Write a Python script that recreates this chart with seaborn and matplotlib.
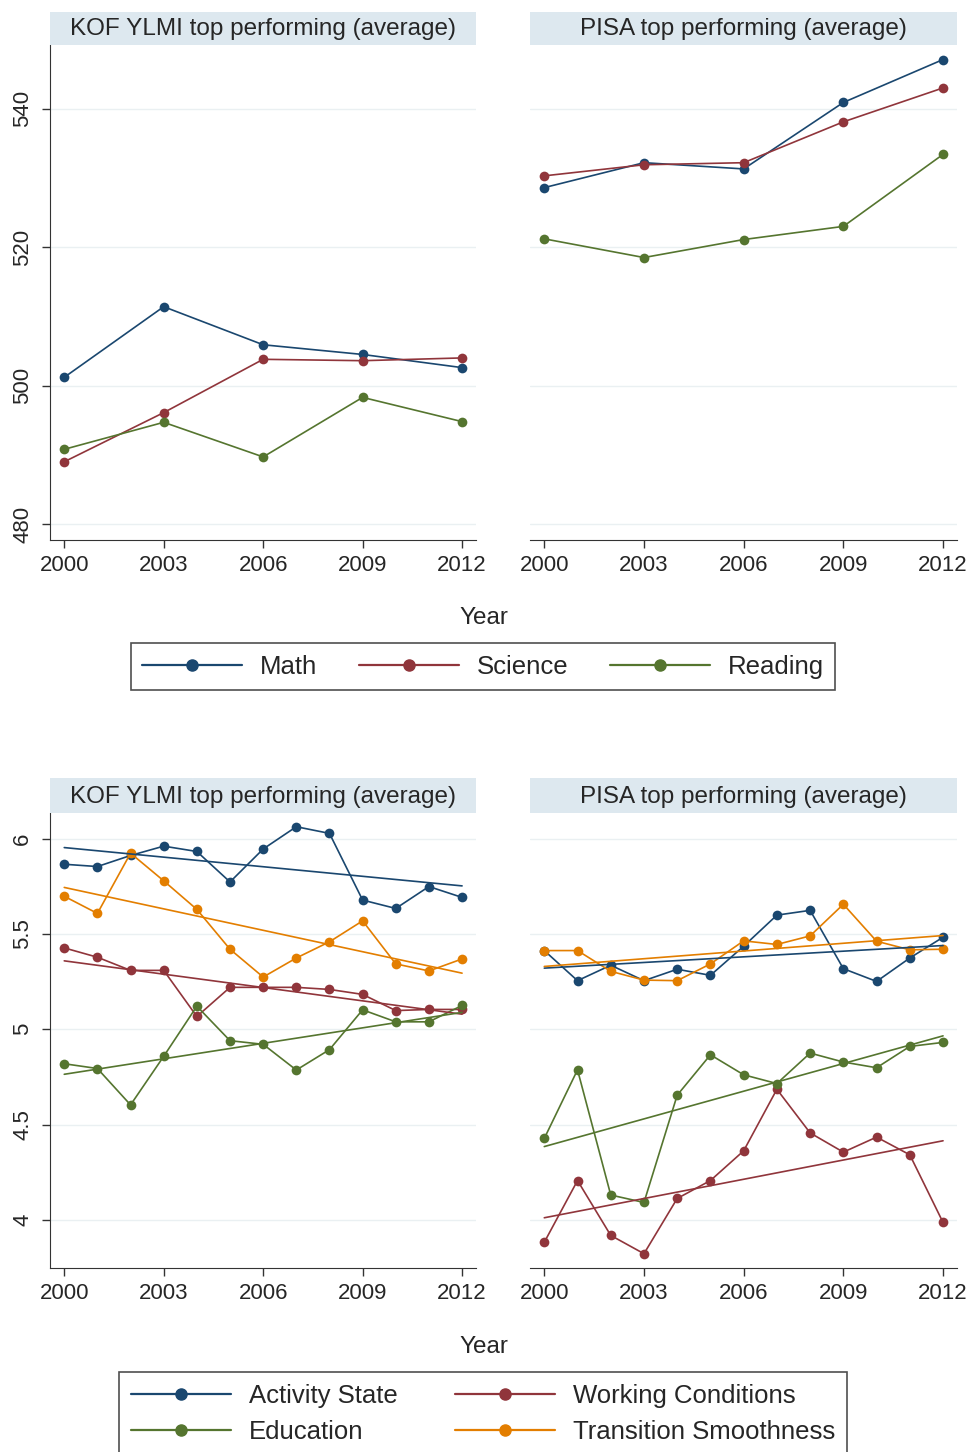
import numpy as np
import pandas as pd
import seaborn as sns
import matplotlib.pyplot as plt
from matplotlib.lines import Line2D

# -- dados -- #
anos_pisa = [2000, 2003, 2006, 2009, 2012]
anos = list(range(2000, 2013))

# KOF YLMI top performing (PISA scores)
kof_math = [501.2, 511.4, 505.9, 504.5, 502.6]
kof_science = [489.0, 496.1, 503.8, 503.6, 504.0]
kof_reading = [490.8, 494.7, 489.7, 498.3, 494.8]

# PISA top performing (PISA scores)
pisa_math = [528.6, 532.2, 531.3, 540.9, 547.1]
pisa_science = [530.3, 531.9, 532.2, 538.1, 543.0]
pisa_reading = [521.2, 518.5, 521.1, 523.0, 533.4]

# KOF YLMI top performing (indicadores)
kof_activity = [5.866, 5.854, 5.912, 5.961, 5.933, 5.773, 5.946, 6.063, 6.028, 5.678, 5.634, 5.749, 5.692]
kof_working = [5.427, 5.378, 5.309, 5.309, 5.067, 5.220, 5.220, 5.220, 5.209, 5.183, 5.098, 5.104, 5.104]
kof_education = [4.819, 4.794, 4.603, 4.858, 5.121, 4.940, 4.921, 4.786, 4.893, 5.102, 5.039, 5.039, 5.125]
kof_transition = [5.698, 5.608, 5.924, 5.779, 5.629, 5.420, 5.274, 5.374, 5.459, 5.569, 5.343, 5.306, 5.369]

# PISA top performing (indicadores)
pisa_activity = [5.413, 5.255, 5.336, 5.255, 5.315, 5.283, 5.436, 5.599, 5.624, 5.318, 5.251, 5.374, 5.483]
pisa_working = [3.882, 4.206, 3.918, 3.822, 4.112, 4.206, 4.362, 4.685, 4.456, 4.355, 4.434, 4.341, 3.986]
pisa_education = [4.427, 4.787, 4.130, 4.091, 4.654, 4.866, 4.761, 4.715, 4.875, 4.828, 4.798, 4.910, 4.931]
pisa_transition = [5.413, 5.413, 5.304, 5.258, 5.255, 5.343, 5.464, 5.445, 5.490, 5.656, 5.462, 5.417, 5.420]

titulos = ["KOF YLMI top performing (average)", "PISA top performing (average)"]
materias = ["Math", "Science", "Reading"]
indicadores = ["Activity State", "Working Conditions", "Education", "Transition Smoothness"]

cores = {"Math": "#1a476f", "Science": "#90353b", "Reading": "#55752f",
         "Activity State": "#1a476f", "Working Conditions": "#90353b",
         "Education": "#55752f", "Transition Smoothness": "#e37e00"}

scores = pd.concat([
    pd.DataFrame({"grupo": titulos[0], "ano": anos_pisa, "Math": kof_math, "Science": kof_science, "Reading": kof_reading}),
    pd.DataFrame({"grupo": titulos[1], "ano": anos_pisa, "Math": pisa_math, "Science": pisa_science, "Reading": pisa_reading}),
]).melt(id_vars=["grupo", "ano"], var_name="serie", value_name="valor")

indices = pd.concat([
    pd.DataFrame({"grupo": titulos[0], "ano": anos, "Activity State": kof_activity, "Working Conditions": kof_working,
                  "Education": kof_education, "Transition Smoothness": kof_transition}),
    pd.DataFrame({"grupo": titulos[1], "ano": anos, "Activity State": pisa_activity, "Working Conditions": pisa_working,
                  "Education": pisa_education, "Transition Smoothness": pisa_transition}),
]).melt(id_vars=["grupo", "ano"], var_name="serie", value_name="valor")

sns.set_style("white")
plt.rcParams["font.family"] = ["Liberation Sans", "DejaVu Sans"]

W, H = 971, 1452
TICK = 16
TIT = 17.5
LEG = 18.5
fig = plt.figure(figsize=(W / 100, H / 100), dpi=100)


def eixo(x0, y0, x1, y1):
    return fig.add_axes([x0 / W, 1 - y1 / H, (x1 - x0) / W, (y1 - y0) / H])


def arruma(ax, i, pos, y_faixa, titulo):
    for s in ["top", "right"]:
        ax.spines[s].set_visible(False)
    ax.spines["left"].set_visible(i == 0)
    ax.spines["bottom"].set_color("#333333")
    ax.spines["left"].set_color("#333333")
    ax.set_xlim(1999.57, 2012.42)
    ax.set_xticks(anos_pisa)
    ax.tick_params(axis="x", direction="out", length=6, width=1, bottom=True, color="#333333",
                   labelsize=TICK, pad=5)
    if i == 0:
        ax.tick_params(axis="y", direction="out", length=6, width=1, left=True, color="#333333",
                       labelsize=TICK, pad=6)
        for t in ax.get_yticklabels():
            t.set_rotation(90)
            t.set_va("center")
    else:
        ax.tick_params(axis="y", left=False, labelleft=False)
    ax.grid(axis="y", color="#eaf0f2", linewidth=1)
    ax.set_axisbelow(True)
    ax.set_xlabel("")
    ax.set_ylabel("")
    ax.get_legend().remove()

    # faixa cinza-azulada com o título do painel
    x0, _, x1, _ = pos
    faixa = eixo(x0, y_faixa[0], x1, y_faixa[1])
    faixa.set_facecolor("#dde8ef")
    faixa.set_xticks([])
    faixa.set_yticks([])
    for s in faixa.spines.values():
        s.set_visible(False)
    faixa.text(0.5, 0.47, titulo, ha="center", va="center", fontsize=TIT, transform=faixa.transAxes)


pos_cima = [(50, 45, 476, 540), (530, 45, 957, 540)]
pos_baixo = [(50, 813, 476, 1268), (530, 813, 957, 1268)]

# -- painel de cima: notas PISA -- #
for i, g in enumerate(titulos):
    ax = eixo(*pos_cima[i])
    d = scores[scores["grupo"] == g]
    sns.lineplot(data=d, x="ano", y="valor", hue="serie", hue_order=materias, palette=cores,
                 marker="o", markersize=7, markeredgewidth=0, linewidth=1.2, ax=ax)
    ax.set_ylim(477.7, 549.2)
    ax.set_yticks([480, 500, 520, 540])
    ax.set_yticklabels(["480", "500", "520", "540"])
    arruma(ax, i, pos_cima[i], (12, 45), g)

# -- painel de baixo: indicadores com tendência -- #
for i, g in enumerate(titulos):
    ax = eixo(*pos_baixo[i])
    d = indices[indices["grupo"] == g]
    sns.lineplot(data=d, x="ano", y="valor", hue="serie", hue_order=indicadores, palette=cores,
                 marker="o", markersize=7, markeredgewidth=0, linewidth=1.2, ax=ax)
    for ind in indicadores:
        sns.regplot(data=d[d["serie"] == ind], x="ano", y="valor", scatter=False, ci=None,
                    color=cores[ind], line_kws={"linewidth": 1.2}, truncate=True, ax=ax)
    ax.set_ylim(3.747, 6.135)
    ax.set_yticks([4, 4.5, 5, 5.5, 6])
    ax.set_yticklabels(["4", "4.5", "5", "5.5", "6"])
    arruma(ax, i, pos_baixo[i], (778, 813), g)

# rótulos do eixo x
fig.text(484 / W, 1 - 618 / H, "Year", ha="center", va="center", fontsize=TIT)
fig.text(484 / W, 1 - 1347 / H, "Year", ha="center", va="center", fontsize=TIT)

# legendas
kw = dict(fontsize=LEG, frameon=True, fancybox=False, edgecolor="#222222", handlelength=3.9,
          handletextpad=0.7, borderaxespad=0)
h1 = [Line2D([], [], color=cores[m], marker="o", markersize=8, linewidth=1.6) for m in materias]
leg1 = fig.legend(h1, materias, loc="upper center", bbox_to_anchor=(483 / W, 1 - 643 / H), ncol=3,
                  columnspacing=1.6, borderpad=0.45, **kw)
leg1.get_frame().set_linewidth(1.2)

ordem = ["Activity State", "Education", "Working Conditions", "Transition Smoothness"]
h2 = [Line2D([], [], color=cores[m], marker="o", markersize=8, linewidth=1.6) for m in ordem]
leg2 = fig.legend(h2, ordem, loc="upper center", bbox_to_anchor=(483 / W, 1 - 1372 / H), ncol=2,
                  columnspacing=2.2, labelspacing=0.5, borderpad=0.45, **kw)
leg2.get_frame().set_linewidth(1.2)

fig.savefig("out.png", dpi=100)
